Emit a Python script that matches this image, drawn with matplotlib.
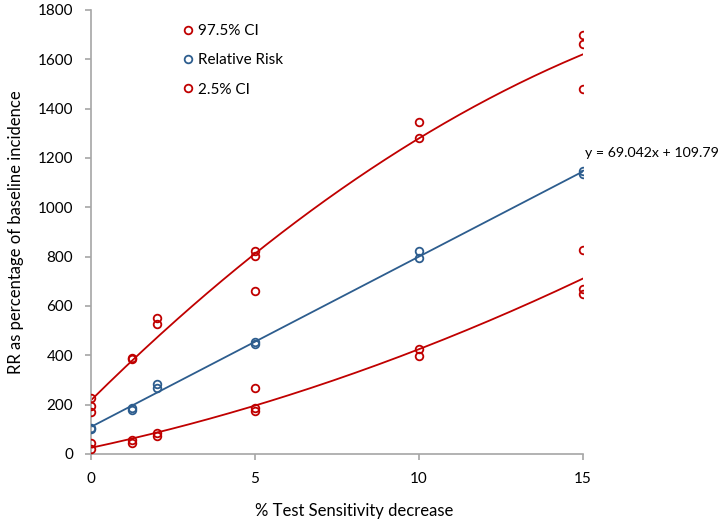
import numpy as np
import matplotlib.pyplot as plt

plt.rcParams.update(
    {
        "font.family": ["Lato", "DejaVu Sans"],
        "font.size": 11,
    }
)

# Colours (Excel-like)
RED = "#C00000"
BLUE = "#2D5D8E"
AXIS_GREY = "#A6A6A6"

# ============================================================
# Data
# ============================================================
x_upper = [0, 0, 0, 1.25, 1.25, 2, 2, 5, 5, 5, 10, 10, 15, 15, 15]
y_upper = [226, 196, 169, 390, 385, 553, 527, 824, 804, 661, 1346, 1282, 1700, 1663, 1481]

x_rr = [0, 0, 1.25, 1.25, 2, 2, 5, 5, 10, 10, 15, 15]
y_rr = [105, 101, 185, 178, 284, 269, 455, 447, 821, 796, 1148, 1135]

x_lower = [0, 0, 1.25, 1.25, 2, 2, 5, 5, 5, 10, 10, 15, 15, 15]
y_lower = [43, 21, 57, 46, 86, 73, 268, 185, 176, 426, 398, 825, 668, 648]

# linear trend shown on the chart
rr_slope, rr_intercept = 69.042, 109.79
eq_label = "y = 69.042x + 109.79"

# ============================================================
# Plot
# ============================================================
fig = plt.figure(figsize=(7.25, 5.22), dpi=100)
ax = fig.add_axes([0.1255, 0.1303, 0.6786, 0.8506])

xs = np.linspace(0, 15, 200)

# polynomial (order 2) trendlines for the CIs
p_up = np.polyfit(x_upper, y_upper, 2)
p_lo = np.polyfit(x_lower, y_lower, 2)
ax.plot(xs, np.polyval(p_up, xs), color=RED, lw=1.3, zorder=2)
ax.plot(xs, rr_slope * xs + rr_intercept, color=BLUE, lw=1.3, zorder=2)
ax.plot(xs, np.polyval(p_lo, xs), color=RED, lw=1.3, zorder=2)

mk = dict(ls="none", marker="o", ms=5.5, mfc="none", mew=1.3, zorder=3)
ax.plot(x_upper, y_upper, color=RED, label="97.5% CI", **mk)
ax.plot(x_rr, y_rr, color=BLUE, label="Relative Risk", **mk)
ax.plot(x_lower, y_lower, color=RED, label="2.5% CI", **mk)

ax.text(15.06, 1220, eq_label, fontsize=10.2, ha="left", va="center", clip_on=False)

# Axes
ax.set_xlim(0, 15)
ax.set_ylim(0, 1800)
ax.set_xticks([0, 5, 10, 15])
ax.set_yticks(np.arange(0, 1801, 200))
ax.set_xlabel("% Test Sensitivity decrease", fontsize=12)
ax.set_ylabel("RR as percentage of baseline incidence", fontsize=12, labelpad=10)
ax.xaxis.set_label_coords(0.535, -0.11)

for s in ["top", "right"]:
    ax.spines[s].set_visible(False)
for s in ["left", "bottom"]:
    ax.spines[s].set_color(AXIS_GREY)
    ax.spines[s].set_linewidth(1.2)
ax.tick_params(axis="both", color=AXIS_GREY, length=4, width=1.2)
ax.tick_params(axis="y", pad=9)
ax.tick_params(axis="x", pad=9)

# Legend
leg = ax.legend(
    loc="upper left",
    bbox_to_anchor=(0.175, 0.982),
    frameon=False,
    handlelength=0.6,
    handletextpad=0.35,
    labelspacing=1.0,
    fontsize=11,
    borderaxespad=0,
)

plt.savefig("out.png", dpi=100)
